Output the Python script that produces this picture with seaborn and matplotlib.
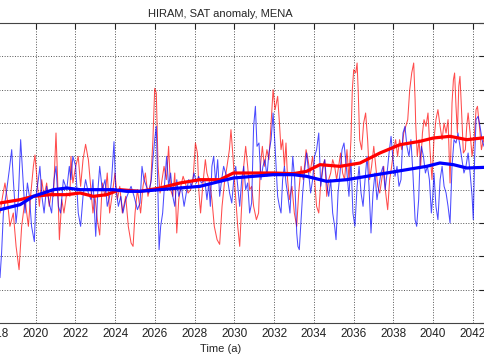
import numpy as np
import pandas as pd
import matplotlib
matplotlib.use("Agg")
import matplotlib.pyplot as plt
import seaborn as sns

# thin red series (turning points)
red_year = [2018.20, 2018.33, 2018.45, 2018.57, 2018.70, 2018.87, 2019.01, 2019.16, 2019.29, 2019.46,
            2019.63, 2019.74, 2019.88, 2019.96, 2020.08, 2020.18, 2020.30, 2020.42, 2020.55, 2020.68,
            2020.80, 2020.89, 2021.02, 2021.09, 2021.19, 2021.31, 2021.42, 2021.56, 2021.72,
            2021.77, 2021.87, 2022.01, 2022.14, 2022.26, 2022.38, 2022.51, 2022.65, 2022.78, 2022.88,
            2022.98, 2023.10, 2023.22, 2023.35, 2023.49, 2023.60, 2023.72, 2023.86, 2023.99, 2024.11,
            2024.23, 2024.36, 2024.53, 2024.66, 2024.80, 2024.90, 2025.00, 2025.12,
            2025.28, 2025.40, 2025.52, 2025.65, 2025.79, 2025.90, 2025.99, 2026.07, 2026.16, 2026.26,
            2026.36, 2026.46, 2026.58, 2026.69, 2026.79, 2026.90, 2027.00, 2027.10, 2027.20, 2027.30,
            2027.42, 2027.53, 2027.67, 2027.80, 2027.92, 2028.04, 2028.14, 2028.22, 2028.30, 2028.42,
            2028.54, 2028.62, 2028.76, 2028.87, 2028.99, 2029.13, 2029.26, 2029.38, 2029.50, 2029.63,
            2029.75, 2029.83, 2029.93, 2030.05, 2030.17, 2030.27, 2030.35, 2030.47, 2030.57, 2030.67,
            2030.77, 2030.87, 2030.97, 2031.11, 2031.22, 2031.31, 2031.41, 2031.51, 2031.64, 2031.74,
            2031.85, 2031.95, 2032.05, 2032.18, 2032.27, 2032.35, 2032.43, 2032.52, 2032.60, 2032.68,
            2032.77, 2032.90, 2033.02, 2033.14, 2033.24, 2033.36, 2033.47, 2033.61, 2033.71, 2033.81,
            2033.94, 2034.04, 2034.14, 2034.25, 2034.35, 2034.45, 2034.55, 2034.65, 2034.75, 2034.85,
            2034.95, 2035.05, 2035.15, 2035.25, 2035.35, 2035.45, 2035.55,
            2035.67, 2035.77, 2035.87, 2035.94, 2036.01, 2036.11, 2036.18, 2036.24, 2036.31, 2036.41,
            2036.51, 2036.61, 2036.71, 2036.81, 2036.91, 2037.02, 2037.12, 2037.22, 2037.32, 2037.42,
            2037.52, 2037.62, 2037.72, 2037.82, 2037.92, 2038.02, 2038.12, 2038.22, 2038.32, 2038.43,
            2038.53, 2038.63, 2038.73, 2038.83, 2038.93, 2039.03, 2039.10,
            2039.13, 2039.21, 2039.30, 2039.38, 2039.47, 2039.55, 2039.65, 2039.75, 2039.85, 2039.95,
            2040.05, 2040.15, 2040.25, 2040.36, 2040.46, 2040.56, 2040.66, 2040.76, 2040.86, 2040.96,
            2041.03, 2041.09, 2041.16, 2041.23, 2041.30, 2041.36, 2041.43, 2041.53, 2041.63, 2041.70,
            2041.77, 2041.87, 2041.97, 2042.07, 2042.17, 2042.24, 2042.34, 2042.44, 2042.54, 2042.60]
red_sat = [-0.35, -0.10, 0.10, -0.15, -0.55, -0.35, -0.85, -1.20, -0.55, -0.15,
           -0.55, -0.10, 0.35, 0.52, 0.10, -0.25, 0.15, -0.10, 0.10, -0.25,
           0.00, -0.10, 0.85, 0.25, -0.75, -0.15, -0.35, -0.05, -0.10,
           0.50, 0.10, 0.35, 0.50, 0.05, 0.45, 0.68, 0.45, 0.00, -0.35,
           -0.10, -0.45, -0.68, 0.10, -0.10, 0.25, -0.35, -0.05, 0.25, -0.15,
           0.05, -0.35, -0.10, -0.55, -0.80, -0.85, -0.35, 0.00,
           -0.35, 0.05, 0.25, -0.10, 0.10, 0.75, 1.52, 1.45, 0.35, -0.05,
           0.15, 0.35, 0.15, 0.65, 0.00, -0.10, 0.25, -0.65, -0.15, 0.05,
           0.20, 0.10, -0.05, 0.00, 0.15, 0.70, 0.55, -0.05, -0.35, 0.10,
           0.45, 0.25, 0.10, -0.15, -0.55, -0.75, -0.82, -0.25, 0.10, 0.35,
           0.60, 0.90, 0.50, -0.05, -0.55, -0.85, -0.35, 0.35, 0.65, 0.35,
           0.00, 0.05, -0.25, -0.45, -0.35, 0.35, 0.65, 0.35, 0.60, 0.45,
           1.00, 1.50, 1.20, 1.40, 1.00, 0.60, 0.75, 0.35, 0.70, 0.15,
           -0.15, 0.05, -0.35, -0.55, -0.05, 0.35, 0.15, 0.60, 0.45, 0.25,
           0.50, 0.15, -0.25, -0.35, 0.10, 0.35, 0.45, -0.10, 0.15, 0.25,
           0.45, 0.35, 0.15, 0.35, 0.55, 0.25, 0.15,
           0.60, 0.15, 0.75, 1.50, 1.80, 1.75, 1.90, 1.45, 0.75, 0.60,
           1.00, 1.15, 0.75, 0.15, 0.35, 0.65, 0.35, 0.05, -0.05, 0.15,
           0.35, -0.05, -0.30, 0.15, 0.35, 0.60, 0.75, 0.50, 0.75, 0.60,
           0.85, 0.95, 1.05, 1.50, 1.75, 1.90, 1.35,
           1.00, 0.50, 0.75, 0.35, 0.85, 1.05, 0.95, 1.15, 0.60, 0.15,
           0.75, 1.05, 1.20, 0.95, 0.75, 1.00, 0.85, 1.05, 0.10, 1.30,
           1.65, 1.75, 1.25, 0.85, 1.55, 1.70, 1.25, 0.55, 0.60, 0.95,
           1.15, 0.85, 0.50, 0.75, 1.20, 1.25, 0.95, 0.60, 0.75, 0.70]

# thin blue series
blue_year = [2018.20, 2018.28, 2018.37, 2018.54, 2018.67, 2018.79, 2018.87, 2019.01, 2019.12, 2019.24,
             2019.34, 2019.46, 2019.58, 2019.68, 2019.79, 2019.93, 2020.01, 2020.13, 2020.21, 2020.31,
             2020.42, 2020.55, 2020.68, 2020.80, 2020.92, 2021.02, 2021.14, 2021.25, 2021.39, 2021.56,
             2021.69, 2021.77, 2021.87, 2022.01, 2022.14, 2022.26, 2022.38, 2022.51, 2022.65, 2022.78,
             2022.88, 2023.02, 2023.12, 2023.22, 2023.35, 2023.49, 2023.60, 2023.72, 2023.82, 2023.94,
             2024.02, 2024.16, 2024.28, 2024.39, 2024.53, 2024.66, 2024.80, 2024.95, 2025.12,
             2025.25, 2025.35, 2025.45, 2025.57, 2025.69, 2025.82, 2025.90, 2025.99, 2026.07, 2026.16,
             2026.21, 2026.29, 2026.39, 2026.49, 2026.59, 2026.69, 2026.79, 2026.90, 2027.00, 2027.10,
             2027.20, 2027.33, 2027.47, 2027.58, 2027.70, 2027.84, 2027.97, 2028.09, 2028.20, 2028.34,
             2028.51, 2028.62, 2028.71, 2028.79, 2028.87, 2028.96, 2029.06, 2029.16, 2029.26, 2029.36,
             2029.46, 2029.56, 2029.66, 2029.76, 2029.87, 2029.97, 2030.07, 2030.17, 2030.27, 2030.37,
             2030.47, 2030.57, 2030.67, 2030.77, 2030.87, 2030.97, 2031.06, 2031.14, 2031.24, 2031.34,
             2031.44, 2031.54, 2031.64, 2031.74, 2031.85, 2031.95, 2032.05,
             2032.18, 2032.27, 2032.35, 2032.43, 2032.52, 2032.60, 2032.70, 2032.80, 2032.94, 2033.04,
             2033.14, 2033.20, 2033.27, 2033.36, 2033.44, 2033.54, 2033.64, 2033.74, 2033.84, 2033.94,
             2034.04, 2034.14, 2034.25, 2034.35, 2034.45, 2034.55, 2034.65, 2034.75, 2034.85, 2034.95,
             2035.05, 2035.12, 2035.22, 2035.32, 2035.42, 2035.52,
             2035.67, 2035.77, 2035.87, 2035.97, 2036.07, 2036.18, 2036.28, 2036.38, 2036.48, 2036.58,
             2036.68, 2036.78, 2036.88, 2036.98, 2037.08, 2037.18, 2037.28, 2037.38, 2037.49, 2037.59,
             2037.69, 2037.79, 2037.89, 2037.99, 2038.09, 2038.19, 2038.29, 2038.39, 2038.49, 2038.59,
             2038.69, 2038.79, 2038.89, 2038.99, 2039.10, 2039.18,
             2039.28, 2039.35, 2039.42, 2039.52, 2039.62, 2039.72, 2039.82, 2039.92, 2039.99, 2040.05,
             2040.15, 2040.25, 2040.36, 2040.46, 2040.56, 2040.66, 2040.76, 2040.86, 2040.96, 2041.06,
             2041.16, 2041.26, 2041.36, 2041.46, 2041.56, 2041.66, 2041.77, 2041.87, 2041.97, 2042.03,
             2042.10, 2042.17, 2042.27, 2042.37, 2042.47, 2042.57]
blue_sat = [-1.32, -0.95, -0.35, 0.00, 0.30, 0.60, 0.15, -0.50, -0.15, 0.75,
            0.25, -0.35, 0.10, -0.10, -0.55, -0.78, -0.10, 0.15, 0.35, -0.10,
            -0.35, 0.05, -0.20, -0.35, 0.15, 0.35, -0.25, -0.35, 0.15, 0.00,
            0.35, 0.15, 0.50, 0.35, -0.35, -0.55, -0.10, 0.15, -0.05, -0.15,
            0.15, -0.70, -0.05, 0.35, 0.00, 0.15, -0.25, -0.10, 0.15, 0.72,
            0.05, -0.25, -0.10, -0.35, -0.15, -0.05, 0.05, -0.10, -0.30,
            -0.20, 0.35, 0.15, 0.05, -0.05, 0.15, 0.45, 0.75, 0.95, -0.15,
            -0.90, -0.55, -0.35, 0.10, 0.50, 0.05, 0.25, -0.10, -0.25, 0.15,
            -0.10, 0.05, -0.25, -0.05, 0.15, 0.05, 0.25, 0.10, 0.20, 0.10,
            0.15, -0.15, 0.10, -0.25, 0.35, 0.50, 0.10, 0.45, -0.10, 0.15,
            0.35, 0.25, 0.15, -0.05, -0.20, 0.15, 0.35, 0.05, -0.25, 0.15,
            0.35, 0.00, 0.10, -0.35, -0.20, 0.95, 1.25, 0.65, 0.70, 0.15,
            0.35, 0.45, 0.20, 0.55, 0.75, 1.15, 0.65,
            -0.10, -0.25, -0.35, 0.15, 0.35, 0.10, -0.10, -0.35, 0.50, 0.15,
            -0.65, -0.85, -0.90, -0.45, -0.05, 0.30, 0.55, 0.25, -0.05, 0.15,
            0.50, 0.60, 0.85, 0.05, 0.30, 0.45, 0.10, -0.10, 0.15, -0.35,
            -0.55, -0.75, -0.05, 0.25, 0.60, 0.70,
            0.25, -0.10, 0.45, -0.35, -0.55, 0.05, 0.35, -0.05, -0.25, 0.15,
            0.50, 0.05, -0.65, -0.05, 0.25, -0.15, 0.05, 0.25, 0.35, 0.00,
            0.25, 0.55, 0.80, 0.45, 0.20, 0.35, 0.05, 0.15, 0.85, 0.95,
            0.65, 0.50, 0.75, 0.25, -0.45, -0.55,
            -0.15, 0.45, 0.65, 0.50, 0.25, 0.35, 0.15, -0.35, -0.10, 0.25,
            -0.25, -0.45, 0.15, 0.35, 0.05, -0.05, -0.25, -0.50, 0.35, 0.75,
            0.70, 0.85, 0.65, 0.45, 0.25, 0.35, 0.55, 0.25, -0.10, -0.45,
            0.50, 1.05, 1.10, 0.95, 0.75, 0.65]

# thick running-mean lines
red_mean_year = [2018.20, 2019.21, 2019.88, 2020.72, 2021.56, 2022.23, 2022.90, 2023.57, 2024.24, 2025.25,
                 2026.26, 2027.26, 2028.27, 2029.28, 2029.95, 2030.96, 2031.96, 2032.97, 2033.64, 2034.31,
                 2035.32, 2036.33, 2037.33, 2038.34, 2039.35, 2040.02, 2040.86, 2041.70, 2042.62]
red_mean = [-0.20, -0.15, -0.10, -0.075, -0.075, -0.05, -0.10, -0.075, 0.00, -0.025,
            0.025, 0.10, 0.15, 0.15, 0.25, 0.25, 0.25, 0.24, 0.275, 0.375,
            0.35, 0.40, 0.55, 0.675, 0.725, 0.775, 0.80, 0.75, 0.78]
blue_mean_year = [2018.20, 2019.21, 2019.88, 2020.89, 2021.56, 2022.23, 2023.24, 2023.91, 2024.58, 2025.25,
                  2026.26, 2027.26, 2028.27, 2029.28, 2029.95, 2030.96, 2031.96, 2032.97, 2033.64, 2034.65,
                  2035.66, 2036.66, 2037.67, 2038.68, 2039.68, 2040.35, 2041.03, 2041.70, 2042.62]
blue_mean = [-0.30, -0.225, -0.10, 0.00, 0.025, 0.00, 0.00, 0.00, -0.025, -0.025,
             0.00, 0.025, 0.05, 0.125, 0.175, 0.20, 0.225, 0.225, 0.20, 0.125,
             0.15, 0.20, 0.25, 0.30, 0.35, 0.40, 0.375, 0.325, 0.335]

x_ticks = list(range(2016, 2043, 2))
y_ticks = [-2.0, -1.5, -1.0, -0.5, 0.0, 0.5, 1.0, 1.5, 2.0, 2.5]

sns.set_style("white")
plt.rcParams['font.family'] = ['Liberation Sans', 'DejaVu Sans']

fig = plt.figure(figsize=(4.85, 3.6), dpi=100)
# axes reaches past the left edge: the reference is a crop of a wider figure
left_px, right_px = -43.7, 484.6
ax = fig.add_axes([left_px / 485, 37 / 360, (right_px - left_px) / 485, 300 / 360])

thin = pd.concat([
    pd.DataFrame({"year": red_year, "sat": red_sat, "run": "red"}),
    pd.DataFrame({"year": blue_year, "sat": blue_sat, "run": "blue"}),
])
thick = pd.concat([
    pd.DataFrame({"year": red_mean_year, "sat": red_mean, "run": "red"}),
    pd.DataFrame({"year": blue_mean_year, "sat": blue_mean, "run": "blue"}),
])
pal = {"red": "#ff0000", "blue": "#0000ff"}

sns.lineplot(data=thin, x="year", y="sat", hue="run", palette=pal, estimator=None,
             sort=False, lw=0.75, alpha=0.7, legend=False, ax=ax)
sns.lineplot(data=thick, x="year", y="sat", hue="run", palette=pal, estimator=None,
             sort=False, lw=2.3, legend=False, ax=ax)

ax.set_xlim(2016.0, 2042.6)
ax.set_ylim(-2.0, 2.5)
ax.set_xticks(x_ticks)
ax.set_yticks(y_ticks)
ax.grid(True, linestyle=":", color="#555555", linewidth=0.7)
ax.tick_params(direction="in", length=4, labelsize=8.5, top=True, right=True, colors="#222222")
for s in ax.spines.values():
    s.set_color("#444444")
    s.set_linewidth(0.8)

ax.set_title("HIRAM, SAT anomaly, MENA", fontsize=8, pad=4.5)
ax.set_xlabel("Time (a)", fontsize=8, labelpad=3)
ax.set_ylabel("")

fig.savefig("out.png", dpi=100)
